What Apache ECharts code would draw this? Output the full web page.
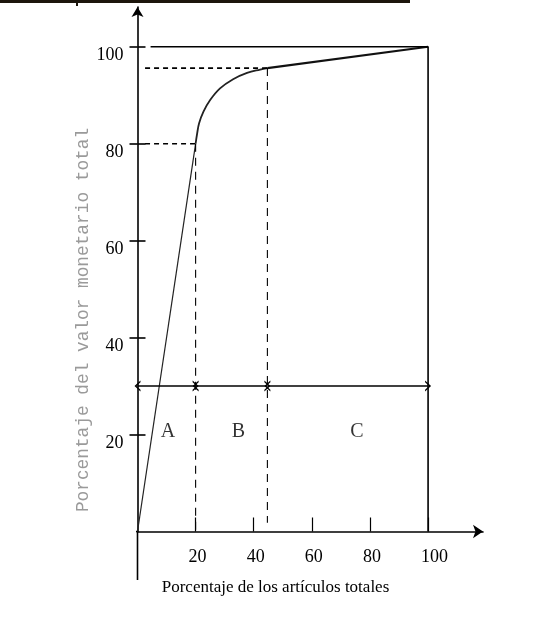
<!DOCTYPE html>
<html><head><meta charset="utf-8">
<script src="https://cdn.jsdelivr.net/npm/echarts@6/dist/echarts.min.js"></script>
<style>html,body{margin:0;padding:0;background:#fff}#c{width:554px;height:622px}</style>
</head><body><div id="c"></div>
<script>
// ---- data ----
const xTickValues = [20, 40, 60, 80, 100];
const yTickValues = [20, 40, 60, 80, 100];
const xAxisTitle = 'Porcentaje de los artículos totales';
const yAxisTitle = 'Porcentaje del valor monetario total';
// cumulative curve pieces
const rampX = [0, 20];
const rampY = [0, 80];
const kneeX = [20, 20.5, 21.2, 22.7, 25, 28.4, 32.9, 37.7, 42.2, 44.7];
const kneeY = [80, 82, 84.2, 86.6, 89, 91.4, 93.3, 94.6, 95.3, 95.6];
const tailX = [44.7, 100];
const tailY = [95.6, 100];
// zones
const zoneNames = ['A', 'B', 'C'];
const zoneStart = [0, 20, 44.7];
const zoneEnd = [20, 44.7, 100];
const zoneArrowY = 30;
const zoneLabelX = [10.5, 34.7, 75.5];
const zoneLabelY = [20.5, 20.5, 20.5];
// guide lines (dashed) and frame (solid)
const guideAH = [[2.6, 80], [20, 80]];
const guideAV = [[20, 80], [20, 0]];
const guideBH = [[2.6, 95.6], [44.7, 95.6]];
const guideBV = [[44.7, 95.6], [44.7, 1.8]];
const frameTop = [[4.5, 100], [100, 100], [100, 0]];
// axis stubs that run past the origin
const xStub = [[-10.3, 0], [0, 0]];
const yStub = [[0, 0], [0, -10]];

const pair = (xs, ys) => xs.map((x, i) => [x, ys[i]]);
const chevron = 'path://M0,10 L5,0 L10,10 L8.4,10 L5,3.4 L1.6,10 Z';

const chart = echarts.init(document.getElementById('c'), null, {renderer: 'canvas'});
const serif = 'Liberation Serif';
const plain = (data, style, extra) => Object.assign({type: 'line', data: data, showSymbol: false, symbol: 'none', lineStyle: style}, extra || {});

chart.setOption({
  animation: false,
  backgroundColor: '#fff',
  grid: {left: 137.5, right: 71, top: 7, bottom: 90.5, containLabel: false, outerBoundsMode: 'none'},
  xAxis: {
    type: 'value', min: 0, max: 118.9,
    splitLine: {show: false},
    axisLine: {onZero: false, lineStyle: {color: '#000', width: 1.6}, symbol: ['none', 'arrow'], symbolSize: [10, 10]},
    axisTick: {show: true, inside: true, length: 14, lineStyle: {color: '#000', width: 1.2}, customValues: xTickValues},
    axisLabel: {show: true, customValues: xTickValues, margin: 17, align: 'left', padding: [0, 0, 0, -7],
      color: '#000', fontFamily: serif, fontSize: 18}
  },
  yAxis: [{
    type: 'value', min: 0, max: 108.2,
    splitLine: {show: false},
    axisLine: {onZero: false, lineStyle: {color: '#000', width: 1.6}, symbol: ['none', 'arrow'], symbolSize: [9, 10]},
    axisTick: {show: true, inside: false, length: 8, lineStyle: {color: '#000', width: 1.6}, customValues: yTickValues},
    axisLabel: {show: true, customValues: yTickValues, margin: 14, verticalAlign: 'top',
      color: '#000', fontFamily: serif, fontSize: 18}
  }, {
    type: 'value', min: 0, max: 108.2, position: 'left',
    splitLine: {show: false},
    axisLine: {show: false, onZero: false},
    axisTick: {show: true, inside: true, length: 8, lineStyle: {color: '#000', width: 1.6}, customValues: yTickValues},
    axisLabel: {show: false}
  }],
  graphic: [
    {type: 'rect', shape: {x: 0, y: 0, width: 410, height: 3}, style: {fill: '#1c160c'}},
    {type: 'rect', shape: {x: 76, y: 3, width: 2, height: 3}, style: {fill: '#1c160c'}},
    {type: 'text', x: 275.5, y: 588, style: {text: xAxisTitle, fontFamily: serif, fontSize: 17, fill: '#000',
      align: 'center', verticalAlign: 'middle'}},
    {type: 'text', x: 83, y: 320, rotation: Math.PI / 2, style: {text: yAxisTitle, fontFamily: 'Liberation Mono',
      fontSize: 17.8, fill: '#9a9a9a', align: 'center', verticalAlign: 'middle'}}
  ],
  series: [
    plain(xStub, {color: '#000', width: 1.6}, {clip: false}),
    plain(yStub, {color: '#000', width: 1.6}, {clip: false}),
    plain(pair(rampX, rampY), {color: '#222', width: 1.2}),
    plain(pair(kneeX, kneeY), {color: '#222', width: 1.8}, {smooth: 0.4}),
    plain(pair(tailX, tailY), {color: '#111', width: 2.2}),
    plain(guideAH, {color: '#000', width: 1.6, type: [5, 4]}),
    plain(guideBH, {color: '#000', width: 1.6, type: [5, 4]}),
    plain(guideAV, {color: '#000', width: 1.1, type: [8, 6]}),
    plain(guideBV, {color: '#000', width: 1.1, type: [8, 6]}),
    plain(frameTop, {color: '#000', width: 1.6}),
    plain(zoneStart.map(s => [s, zoneArrowY]), {width: 0, opacity: 0}, {
      markLine: {silent: true, symbol: [chevron, chevron], symbolSize: [11, 6],
        lineStyle: {color: '#000', width: 1.6, type: 'solid'}, label: {show: false},
        emphasis: {disabled: true},
        data: zoneStart.map((s, i) => [{coord: [s, zoneArrowY]}, {coord: [zoneEnd[i], zoneArrowY]}])}}),
    {type: 'scatter', symbolSize: 0,
      data: zoneLabelX.map((x, i) => ({value: [x, zoneLabelY[i]], name: zoneNames[i]})),
      label: {show: true, position: 'inside', formatter: '{b}', color: '#000', fontFamily: serif, fontSize: 20}}
  ]
});
</script></body></html>
